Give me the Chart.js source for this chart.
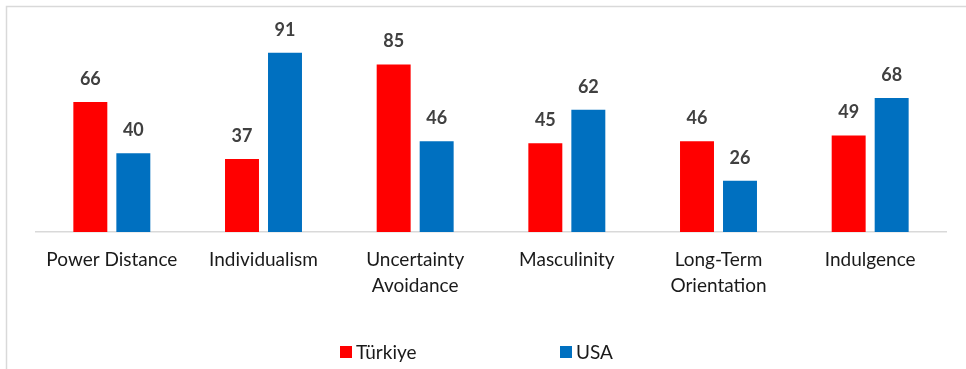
<!DOCTYPE html>
<html>
<head>
<meta charset="utf-8">
<script src="https://cdn.jsdelivr.net/npm/chart.js@4"></script>
<style>
  html, body { margin: 0; padding: 0; background: #fff; }
  #wrap { width: 966px; height: 369px; position: relative; }
</style>
</head>
<body>
<div id="wrap"><canvas id="grafico"></canvas></div>
<script>
const dimensions = ['Power Distance', 'Individualism', ['Uncertainty', 'Avoidance'], 'Masculinity', ['Long-Term', 'Orientation'], 'Indulgence'];
const turkiye = [66, 37, 85, 45, 46, 49];
const usa = [40, 91, 46, 62, 26, 68];
const seriesNames = ['Türkiye', 'USA'];
const seriesColors = ['#FF0000', '#0070C0'];

// outer frame, like the office chart border
const frame = {
  id: 'frame',
  beforeDraw(chart) {
    const ctx = chart.ctx;
    ctx.save();
    ctx.strokeStyle = '#D9D9D9';
    ctx.lineWidth = 1.5;
    ctx.strokeRect(6.5, 6.5, chart.width + 20, chart.height + 20);
    ctx.restore();
  }
};

// value labels above each bar
const valueLabels = {
  id: 'valueLabels',
  afterDatasetsDraw(chart) {
    const ctx = chart.ctx;
    ctx.save();
    ctx.font = 'bold 18px Lato';
    ctx.fillStyle = '#404040';
    ctx.textAlign = 'center';
    ctx.textBaseline = 'middle';
    chart.data.datasets.forEach((ds, i) => {
      chart.getDatasetMeta(i).data.forEach((bar, j) => {
        ctx.fillText(String(ds.data[j]), bar.x, bar.y - 23);
      });
    });
    ctx.restore();
  }
};

// legend drawn by hand so the two entries can sit far apart
const spreadLegend = {
  id: 'spreadLegend',
  afterDraw(chart) {
    const ctx = chart.ctx;
    const starts = [340, 560];
    const y = 352;
    ctx.save();
    ctx.font = '19px Lato';
    ctx.textBaseline = 'middle';
    chart.data.datasets.forEach((ds, i) => {
      ctx.fillStyle = ds.backgroundColor;
      ctx.fillRect(starts[i], y - 6, 12, 12);
      ctx.fillStyle = '#1a1a1a';
      ctx.fillText(ds.label, starts[i] + 16, y + 1);
    });
    ctx.restore();
  }
};

function configurar() {
  const canvas = document.getElementById('grafico');
  new Chart(canvas, {
    type: 'bar',
    data: {
      labels: dimensions,
      datasets: [
        { label: seriesNames[0], data: turkiye, backgroundColor: seriesColors[0] },
        { label: seriesNames[1], data: usa, backgroundColor: seriesColors[1] }
      ]
    },
    options: {
      responsive: true,
      maintainAspectRatio: false,
      animation: false,
      datasets: {
        bar: { categoryPercentage: 0.567, barPercentage: 0.79 }
      },
      layout: { padding: { left: 36, right: 20, top: 35, bottom: 55 } },
      plugins: {
        legend: { display: false },
        tooltip: { enabled: false }
      },
      scales: {
        x: {
          grid: { display: false, drawTicks: false },
          border: { display: true, color: '#D9D9D9', width: 1.5 },
          ticks: {
            font: { family: 'Lato', size: 19, lineHeight: 1.37 },
            color: '#1a1a1a',
            padding: 15,
            maxRotation: 0,
            autoSkip: false
          }
        },
        y: {
          display: false,
          min: 0,
          max: 100
        }
      }
    },
    plugins: [frame, valueLabels, spreadLegend]
  });
}

document.addEventListener('DOMContentLoaded', configurar);
</script>
</body>
</html>
